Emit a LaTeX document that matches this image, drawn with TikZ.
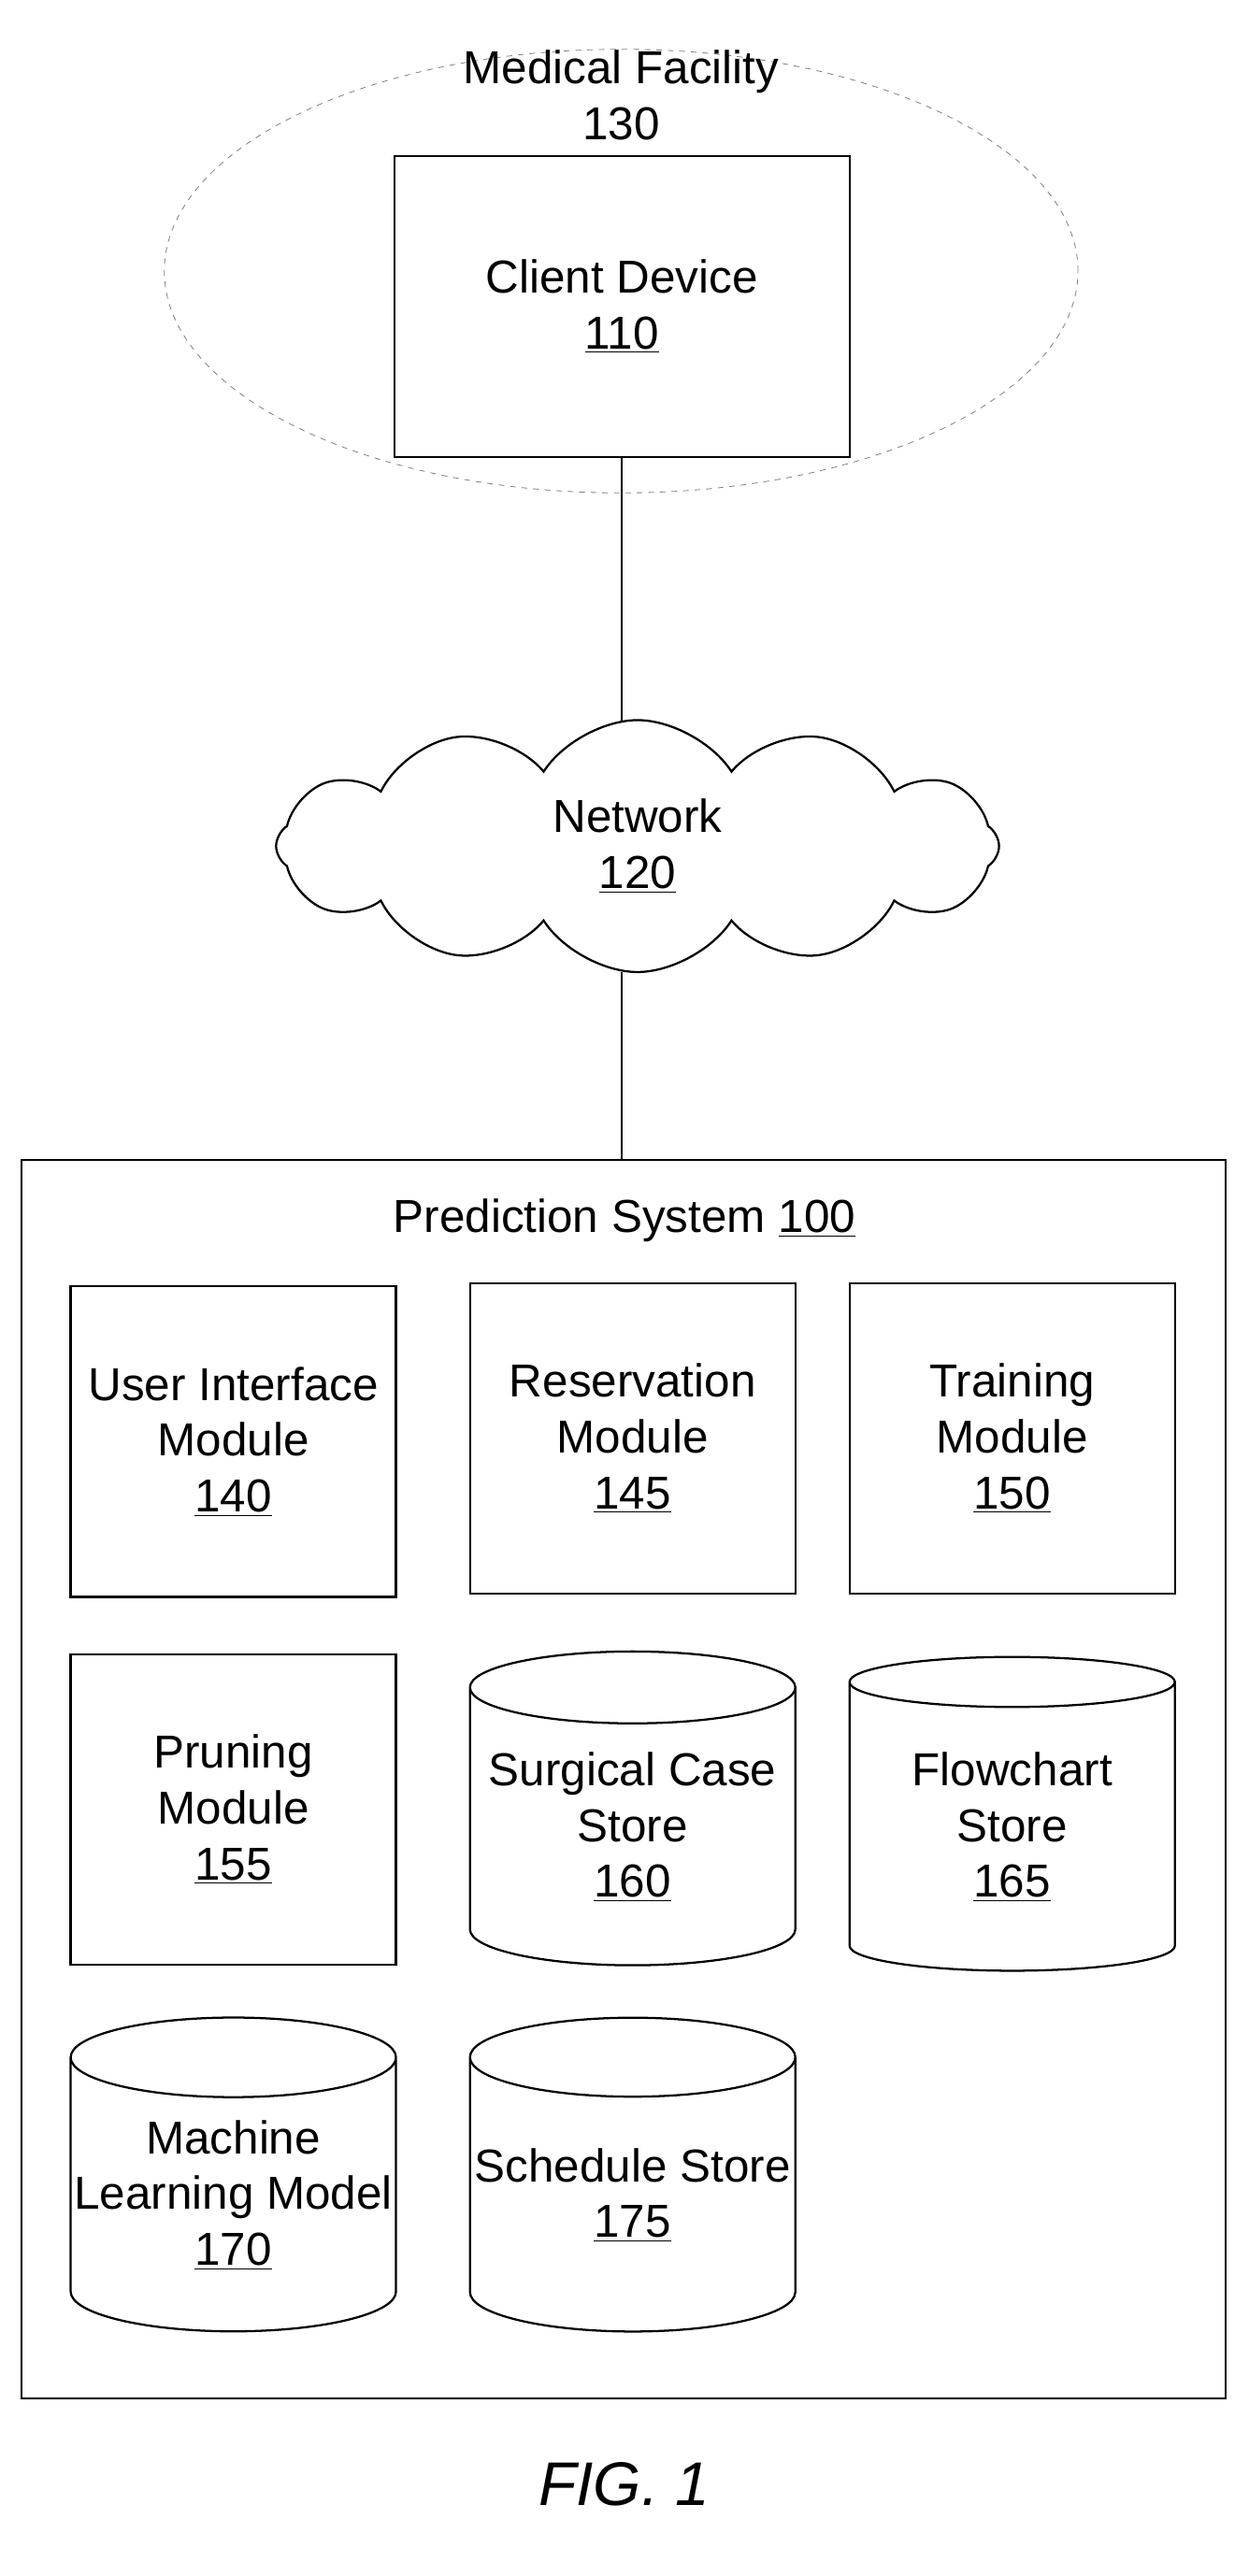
\documentclass[tikz,border=0pt]{standalone}
\usepackage{fontspec}
\setmainfont{Liberation Sans}
\usetikzlibrary{shapes.geometric,shapes.symbols,positioning}

\tikzset{
    lbl/.style={align=center, font=\fontsize{24}{29}\selectfont},
    module/.style={draw, line width=1.1pt, minimum width=5.94cm, minimum height=5.67cm, align=center, font=\fontsize{24}{29}\selectfont},
    store/.style={draw, line width=1.1pt, cylinder, shape border rotate=90, aspect=0.25, inner xsep=0pt, minimum width=5.94cm, minimum height=5.73cm, align=center, font=\fontsize{24}{29}\selectfont}
}

\begin{document}
\begin{tikzpicture}[x=0.03cm, y=-0.03cm]
    \useasboundingbox (0,0) rectangle (760,1568);

    % facility and client
    \node[draw, gray, dashed, ellipse, minimum width=16.68cm, minimum height=8.1cm] (facility) at (378,165) {};
    \node[lbl] (facilitylbl) at (378,58) {Medical Facility\\130};
    \node[draw, line width=1.1pt, minimum width=8.31cm, minimum height=5.49cm, align=center, font=\fontsize{24}{29}\selectfont] (client) at (378.5,186.5) {Client Device\\\underline{110}};

    % network
    \node[draw, line width=1.1pt, cloud, cloud puffs=12, cloud puff arc=115, aspect=3, minimum width=13.2cm, minimum height=4.6cm, align=center, font=\fontsize{24}{29}\selectfont] (network) at (388,515) {Network\\\underline{120}};

    % prediction system
    \node[draw, line width=1.1pt, minimum width=21.99cm, minimum height=22.62cm] (system) at (379.5,1083) {};
    \node[lbl] (systemlbl) at (380,743) {Prediction System \underline{100}};

    \node[module] (ui) at (142,877.5) {User Interface\\Module\\\underline{140}};
    \node[module] (reserve) at (385,875.5) {Reservation\\Module\\\underline{145}};
    \node[module] (train) at (616,875.5) {Training\\Module\\\underline{150}};
    \node[module] (prune) at (142,1101.5) {Pruning\\Module\\\underline{155}};
    \node[store] (surgical) at (385,1112) {Surgical Case\\Store\\\underline{160}};
    \node[store] (flowchart) at (616,1112) {Flowchart\\Store\\\underline{165}};
    \node[store] (mlmodel) at (142,1336) {Machine\\Learning Model\\\underline{170}};
    \node[store] (schedule) at (385,1336) {Schedule Store\\\underline{175}};

    \draw[line width=1.1pt] (client.south) -- (client.south |- network.98);
    \draw[line width=1.1pt] (client.south |- network.-98) -- (client.south |- system.north);

    \node[font=\fontsize{32}{36}\selectfont\itshape] (fig) at (380,1512) {FIG. 1};
\end{tikzpicture}
\end{document}
